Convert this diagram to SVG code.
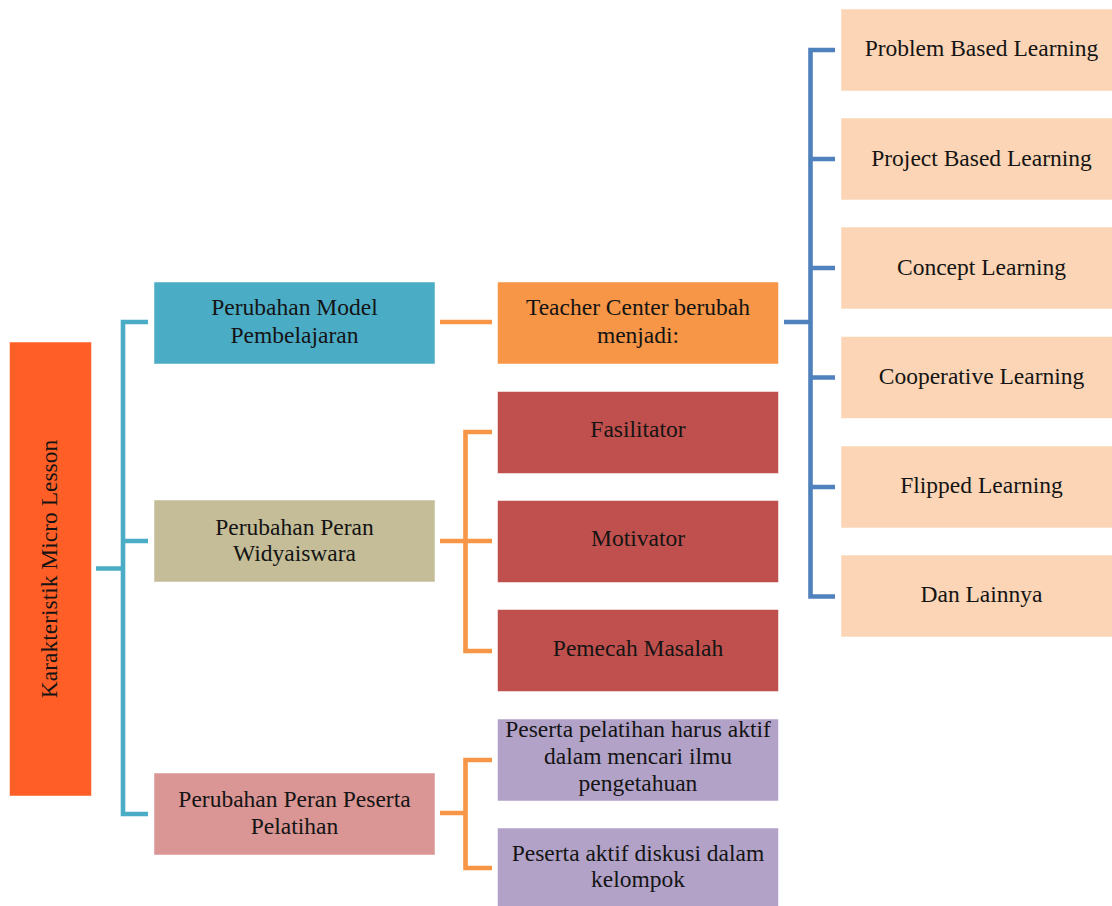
<svg xmlns="http://www.w3.org/2000/svg" width="1112" height="906" viewBox="0 0 1112 906">
<style>
text{font-family:"Liberation Serif","Times New Roman",serif;font-size:23.5px;fill:#141414;text-anchor:middle}
.c{fill:none;stroke-width:4.6;stroke-linejoin:miter}
.teal{stroke:#4BACC6}.org{stroke:#F79646}.blu{stroke:#4F81BD}
.r{stroke:#ffffff;stroke-opacity:0.5;stroke-width:1}
</style>
<rect width="1112" height="906" fill="#ffffff"/>
<g id="connectors">
<path class="c teal" d="M96 568.5H123M148 322H123V814H148M123 541H148"/>
<path class="c org" d="M440 322H492"/>
<path class="c org" d="M440 541H492M492 432H465.5V651H492"/>
<path class="c org" d="M440 813H465.5M492 760H465.5V868H492"/>
<path class="c blu" d="M784 322H810.5M835 50H810.5V596.5H835M810.5 159H835M810.5 268H835M810.5 377.5H835M810.5 487H835"/>
</g>
<g id="root"><rect class="r" x="9.5" y="342" width="82" height="454" fill="#FF5F26"/><text transform="translate(57,569) rotate(-90)">Karakteristik Micro Lesson</text></g>
<g id="model"><rect class="r" x="154" y="282" width="281" height="82" fill="#4BACC6"/><text x="294.5" y="315">Perubahan Model</text><text x="294.5" y="342.5">Pembelajaran</text></g>
<g id="widya"><rect class="r" x="154" y="500" width="281" height="82" fill="#C4BD97"/><text x="294.5" y="534.5">Perubahan Peran</text><text x="294.5" y="561">Widyaiswara</text></g>
<g id="peserta"><rect class="r" x="154" y="773" width="281" height="82" fill="#D99694"/><text x="294.5" y="807">Perubahan Peran Peserta</text><text x="294.5" y="833.5">Pelatihan</text></g>
<g id="teacher"><rect class="r" x="497.5" y="282" width="281" height="82" fill="#F79646"/><text x="638" y="315">Teacher Center berubah</text><text x="638" y="342.5">menjadi:</text></g>
<g id="fasilitator"><rect class="r" x="497.5" y="391.5" width="281" height="82" fill="#C0504D"/><text x="638" y="437">Fasilitator</text></g>
<g id="motivator"><rect class="r" x="497.5" y="500.5" width="281" height="82" fill="#C0504D"/><text x="638" y="546">Motivator</text></g>
<g id="pemecah"><rect class="r" x="497.5" y="609.5" width="281" height="82" fill="#C0504D"/><text x="638" y="655.5">Pemecah Masalah</text></g>
<g id="aktif1"><rect class="r" x="497.5" y="719" width="281" height="82" fill="#B2A2C7"/><text x="638" y="737">Peserta pelatihan harus aktif</text><text x="638" y="764">dalam mencari ilmu</text><text x="638" y="791">pengetahuan</text></g>
<g id="aktif2"><rect class="r" x="497.5" y="828" width="281" height="82" fill="#B2A2C7"/><text x="638" y="860.5">Peserta aktif diskusi dalam</text><text x="638" y="887">kelompok</text></g>
<g id="pbl"><rect class="r" x="841" y="9" width="281" height="82" fill="#FBD5B5"/><text x="981.5" y="56">Problem Based Learning</text></g>
<g id="pjbl"><rect class="r" x="841" y="118" width="281" height="82" fill="#FBD5B5"/><text x="981.5" y="165.5">Project Based Learning</text></g>
<g id="concept"><rect class="r" x="841" y="227" width="281" height="82" fill="#FBD5B5"/><text x="981.5" y="274.5">Concept Learning</text></g>
<g id="coop"><rect class="r" x="841" y="336.5" width="281" height="82" fill="#FBD5B5"/><text x="981.5" y="384">Cooperative Learning</text></g>
<g id="flipped"><rect class="r" x="841" y="446" width="281" height="82" fill="#FBD5B5"/><text x="981.5" y="493">Flipped Learning</text></g>
<g id="lainnya"><rect class="r" x="841" y="555" width="281" height="82" fill="#FBD5B5"/><text x="981.5" y="602">Dan Lainnya</text></g>
</svg>
